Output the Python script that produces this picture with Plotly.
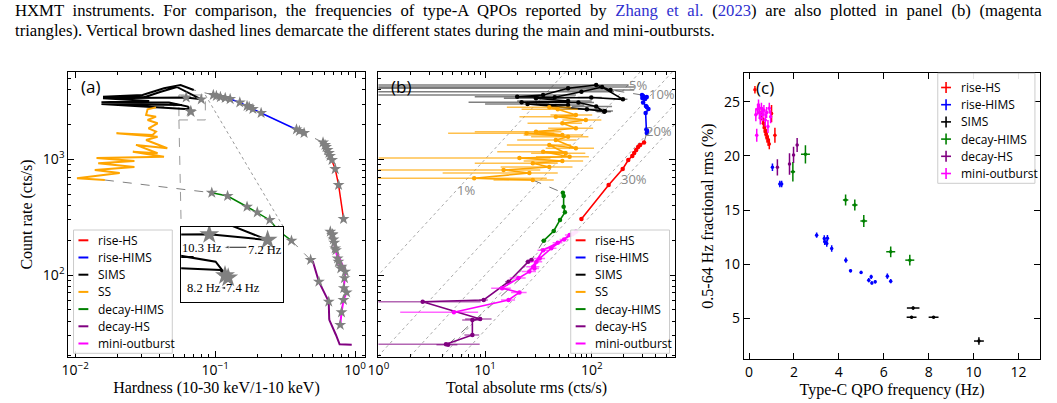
import math
import plotly.graph_objects as go

W, H = 1057, 403

# ------------------------------------------------------------------ data
state_names = ["rise-HS", "rise-HIMS", "SIMS", "SS", "decay-HIMS", "decay-HS", "mini-outburst"]
state_colors = ["#ff0000", "#0000ff", "#000000", "#ffa500", "#008000", "#800080", "#ff00ff"]
err_colors = ["rgba(255,0,0,0.6)", "rgba(0,0,255,0.6)", "rgba(0,0,0,0.5)", "rgba(255,165,0,0.7)",
              "rgba(0,128,0,0.6)", "rgba(128,0,128,0.6)", "rgba(255,0,255,0.6)"]

# rise-HS
rhs_count = [305, 600, 824, 986, 1069, 1133, 1203, 1277, 1330, 1397]
rhs_hard = [0.827, 0.762, 0.721, 0.684, 0.662, 0.650, 0.635, 0.620, 0.610, 0.590]
rhs_rms = [80, 144, 195, 220, 240, 250, 261, 272, 284, 309]
rhs_rms_err = [3, 4, 5, 5, 6, 6, 6, 6, 7, 7]
rhs_qpo_idx = [0, 1, 2, 3, 4, 5, 6, 7, 8, 9]

# rise-HIMS
rhims_count = [1687, 1757, 1811, 2512, 2722, 2833, 2889, 3097, 3318, 3388, 3453, 3524, 3597]
rhims_hard = [0.432, 0.400, 0.381, 0.213, 0.186, 0.175, 0.169, 0.150, 0.128, 0.118, 0.109, 0.102, 0.097]
rhims_rms = [328, 330, 325, 320, 340, 328, 322, 303, 316, 298, 328, 303, 296]
rhims_rms_err = [8, 8, 8, 9, 9, 9, 9, 9, 9, 9, 9, 9, 9]
rhims_qpo_idx = [0, 1, 2, 3, 4, 5, 6, 7, 8, 9, 10, 11, 12]

# SIMS
sims_count = [3972, 4385, 4111, 3597, 3475, 3434, 3837, 4217, 3297, 3420,
              3366, 3192, 3112, 3097, 2858, 2570, 2610, 2704, 3006, 2946]
sims_hard = [0.0703, 0.0566, 0.0431, 0.0303, 0.0158, 0.0312, 0.0409, 0.0533, 0.0796, 0.0621,
             0.0158, 0.0338, 0.0154, 0.0468, 0.0638, 0.0673, 0.0664, 0.0651, 0.0154, 0.0581]
sims_rms = [150, 110, 60, 35, 20, 45, 80, 125, 196, 99,
            30, 60, 22, 75, 110, 131, 133, 90, 25, 60]
sims_rms_err = [100, 112, 62, 36, 12, 25, 82, 128, 20, 25,
                15, 40, 15, 30, 45, 20, 25, 40, 15, 25]
sims_qpo_idx = [8, 9, 15, 16]

# SS
ss_count = [2812, 2704, 2416, 2336, 2188, 2047, 1853, 1734, 1622, 1679, 1567, 1468, 1245,
            1331, 1127, 1164, 1052, 1025, 966, 923, 857, 808, 762, 685, 662]
ss_hard = [0.0378, 0.0329, 0.0321, 0.0378, 0.0329, 0.0388, 0.0334, 0.0378, 0.0357, 0.0197,
           0.0388, 0.0321, 0.0455, 0.0272, 0.0388, 0.0258, 0.0431, 0.0142, 0.0265, 0.0146,
           0.0265, 0.0138, 0.0208, 0.0103, 0.0163]
ss_rms = [40, 48, 71, 46, 88, 53, 71, 30, 53, 24.5, 60, 46, 71, 40, 57, 35, 62, 21, 53, 28,
          40, 14.9, 26, 7.9, 28]
ss_rms_err = [24, 26, 30, 25, 35, 28, 32, 22, 30, 20, 33, 26, 34, 24, 30, 22, 32, 20, 30, 20,
              26, 18, 22, 30, 16]
ss_qpo_idx = []

# decay-HIMS
dhims_count = [514, 482, 389, 348, 299, 240, 198]
dhims_hard = [0.0946, 0.1227, 0.169, 0.200, 0.2455, 0.285, 0.351]
dhims_rms = [53.6, 54.5, 54.5, 56, 50.4, 44, 35.5]
dhims_rms_err = [2, 2, 2, 2, 2, 2, 2]
dhims_qpo_idx = [0, 1, 2, 3, 4, 5, 6]

# decay-HS
dhs_count = [135, 130, 87.5, 60.8, 58.8, 41.7, 40.8, 30.3, 25.2, 25.0]
dhs_hard = [0.481, 0.500, 0.551, 0.640, 0.648, 0.653, 0.655, 0.730, 0.775, 0.946]
dhs_rms = [27.2, 25.3, 16.6, 9.7, 2.6, 9.0, 7.6, 7.6, 4.3, 4.5]
dhs_rms_err = [1.5, 1.5, 1.2, 0.9, 6.5, 2.5, 1.5, 1.2, 4.6, 1.0]
dhs_qpo_idx = [0, 2, 4]

# mini-outburst
mini_count = [118, 114, 130, 139, 170, 203, 222, 237, 225, 190, 164, 107, 94, 77, 70.7, 60.8, 47.6, 37]
mini_hard = [0.80, 0.79, 0.76, 0.75, 0.72, 0.70, 0.685, 0.665, 0.69, 0.71, 0.73, 0.85, 0.84, 0.83,
             0.87, 0.826, 0.80, 0.783]
mini_rms = [28.3, 29, 30.3, 32.5, 41.7, 55, 62, 71, 66, 48, 35, 26, 20.5, 14.4, 21, 16.6, 5.1, None]
mini_rms_err = [4, 3, 4, 4, 5, 5, 6, 6, 5, 5, 4, 4, 3.5, 3, 3.5, 2.5, 3.5, 0]
mini_qpo_idx = list(range(len(mini_count)))

# panel (c): type-C QPO frequency vs fractional rms
c_rhs_freq = [0.26, 0.55, 0.60, 0.64, 0.68, 0.72, 0.76, 0.80, 0.85, 0.90, 1.00, 1.15]
c_rhs_rms = [26.1, 24.0, 23.4, 23.0, 22.6, 22.3, 22.0, 21.7, 21.4, 21.1, 23.9, 21.9]
c_rhs_ferr = [0.04, 0.04, 0.04, 0.04, 0.04, 0.04, 0.04, 0.04, 0.04, 0.04, 0.05, 0.05]
c_rhs_rerr = [0.35, 0.5, 0.5, 0.5, 0.5, 0.5, 0.5, 0.5, 0.5, 0.5, 0.8, 0.7]

c_rhims_freq = [1.04, 1.37, 1.45, 3.01, 3.35, 3.37, 3.49, 3.46, 3.68, 4.31, 4.52, 4.99, 5.33, 5.44,
                5.47, 5.62, 6.16, 6.31]
c_rhims_rms = [18.94, 17.40, 17.40, 12.68, 12.37, 12.06, 12.40, 11.90, 11.45, 10.37, 9.38, 9.23,
               8.52, 8.83, 8.27, 8.37, 8.89, 8.43]
c_rhims_ferr = [0.04, 0.05, 0.05, 0.03, 0.03, 0.03, 0.03, 0.03, 0.03, 0.03, 0.03, 0.03, 0.03, 0.03,
                0.03, 0.03, 0.03, 0.03]
c_rhims_rerr = [0.35, 0.3, 0.3, 0.25, 0.3, 0.3, 0.3, 0.3, 0.3, 0.25, 0.15, 0.15, 0.2, 0.2, 0.15,
                0.15, 0.25, 0.2]

c_sims_freq = [7.24, 7.31, 8.22, 10.24]
c_sims_rms = [5.10, 5.95, 5.10, 2.90]
c_sims_ferr = [0.22, 0.28, 0.22, 0.22]
c_sims_rerr = [0.12, 0.15, 0.10, 0.35]

c_dhims_freq = [7.16, 6.31, 5.11, 4.71, 4.30, 2.51, 1.95]
c_dhims_rms = [10.37, 11.14, 13.98, 15.46, 15.92, 20.14, 18.54]
c_dhims_ferr = [0.2, 0.2, 0.15, 0.12, 0.12, 0.2, 0.1]
c_dhims_rerr = [0.5, 0.5, 0.55, 0.5, 0.5, 0.85, 0.9]

c_dhs_freq = [1.26, 1.80, 1.98, 2.14]
c_dhs_rms = [18.94, 19.25, 20.08, 21.00]
c_dhs_ferr = [0.04, 0.05, 0.05, 0.05]
c_dhs_rerr = [0.75, 1.0, 0.75, 0.65]

c_mini_freq = [0.30, 0.34, 0.38, 0.42, 0.46, 0.50, 0.55, 0.60, 0.66, 0.72, 0.78, 0.84, 0.90, 0.96]
c_mini_rms = [23.8, 21.9, 24.3, 24.7, 24.0, 23.5, 24.4, 23.8, 24.2, 23.3, 24.0, 22.7, 24.4, 23.6]
c_mini_ferr = [0.04, 0.04, 0.04, 0.04, 0.04, 0.04, 0.04, 0.04, 0.04, 0.04, 0.04, 0.04, 0.04, 0.04]
c_mini_rerr = [0.6, 0.6, 0.5, 0.5, 0.6, 0.6, 0.5, 0.6, 0.5, 0.6, 0.5, 0.6, 0.5, 0.6]

# fractional-rms guide levels in panel (b)
frac_levels = [0.01, 0.05, 0.10, 0.20, 0.30]
frac_labels = ["1%", "5%", "10%", "20%", "30%"]
frac_label_count = [540, 4365, 3690, 1746, 679]

# QPO frequency annotations of the inset
inset_notes = ["10.3 Hz", "7.2 Hz", "8.2 Hz", "7.4 Hz"]

# zoom window of the inset (hardness, count rate)
inset_hard_lim = [0.0551, 0.0851]
inset_count_lim = [2188, 3597]

# ------------------------------------------------------------------ tables
hid_table = [
    (rhs_count, rhs_hard, rhs_rms, rhs_rms_err, rhs_qpo_idx),
    (rhims_count, rhims_hard, rhims_rms, rhims_rms_err, rhims_qpo_idx),
    (sims_count, sims_hard, sims_rms, sims_rms_err, sims_qpo_idx),
    (ss_count, ss_hard, ss_rms, ss_rms_err, ss_qpo_idx),
    (dhims_count, dhims_hard, dhims_rms, dhims_rms_err, dhims_qpo_idx),
    (dhs_count, dhs_hard, dhs_rms, dhs_rms_err, dhs_qpo_idx),
    (mini_count, mini_hard, mini_rms, mini_rms_err, mini_qpo_idx),
]
qpo_table = [
    (0, c_rhs_freq, c_rhs_rms, c_rhs_ferr, c_rhs_rerr),
    (1, c_rhims_freq, c_rhims_rms, c_rhims_ferr, c_rhims_rerr),
    (2, c_sims_freq, c_sims_rms, c_sims_ferr, c_sims_rerr),
    (4, c_dhims_freq, c_dhims_rms, c_dhims_ferr, c_dhims_rerr),
    (5, c_dhs_freq, c_dhs_rms, c_dhs_ferr, c_dhs_rerr),
    (6, c_mini_freq, c_mini_rms, c_mini_ferr, c_mini_rerr),
]
line_widths_a = [1.5, 1.5, 2, 2, 1.5, 2, 2]

# ------------------------------------------------------------------ layout geometry
def dom_x(p0, p1):
    return [p0 / W, p1 / W]


def dom_y(p_top, p_bot):
    return [1 - p_bot / H, 1 - p_top / H]


AX_A = dom_x(58, 358)
AX_B = dom_x(372, 672)
AX_C = dom_x(742, 1042)
AY_AB = dom_y(72, 357)
AY_C = dom_y(73, 359)
INS_X = dom_x(172.3, 275.7)
INS_Y = dom_y(226.7, 302.3)

XR_A = [-2.0494, 0.0678]
YR_AB = [1.2913, 3.7545]
XR_B = [0.0, 2.778]
XR_C = [-0.233, 12.97]
YR_C = [1.242, 27.65]
XR_I = [math.log10(inset_hard_lim[0]), math.log10(inset_hard_lim[1])]
YR_I = [math.log10(inset_count_lim[0]), math.log10(inset_count_lim[1])]

GRAY = "#808080"
SANS = "Open Sans"
SERIF = "Liberation Serif"

fig = go.Figure()

# ---------------- panel (a) -------------------------------------------------
for i in range(5):
    c0, h0 = hid_table[i][0], hid_table[i][1]
    c1, h1 = hid_table[i + 1][0], hid_table[i + 1][1]
    fig.add_trace(go.Scatter(x=[h0[-1], h1[0]], y=[c0[-1], c1[0]], mode="lines",
                             line=dict(color=GRAY, width=1, dash="dash"),
                             showlegend=False, hoverinfo="skip", xaxis="x", yaxis="y"))

hx0, hx1 = inset_hard_lim
cy0, cy1 = inset_count_lim
fig.add_trace(go.Scatter(x=[hx0, hx1, hx1, hx0, hx0], y=[cy0, cy0, cy1, cy1, cy0], mode="lines",
                         line=dict(color="#999999", width=1, dash="dash"),
                         showlegend=False, hoverinfo="skip", xaxis="x", yaxis="y"))


def paper_to_a(xp, yp):
    fx = (xp - AX_A[0]) / (AX_A[1] - AX_A[0])
    fy = (yp - AY_AB[0]) / (AY_AB[1] - AY_AB[0])
    return (10 ** (XR_A[0] + fx * (XR_A[1] - XR_A[0])),
            10 ** (YR_AB[0] + fy * (YR_AB[1] - YR_AB[0])))


def inset_frac(fx, fy):
    return (10 ** (XR_I[0] + fx * (XR_I[1] - XR_I[0])), 10 ** (YR_I[0] + fy * (YR_I[1] - YR_I[0])))


tl = paper_to_a(INS_X[0], INS_Y[1])
tr = paper_to_a(INS_X[1], INS_Y[1])
fig.add_trace(go.Scatter(x=[hx0, tl[0]], y=[cy0, tl[1]], mode="lines",
                         line=dict(color="#999999", width=1, dash="dash"),
                         showlegend=False, hoverinfo="skip", xaxis="x", yaxis="y"))
fig.add_trace(go.Scatter(x=[hx1, tr[0]], y=[cy1, tr[1]], mode="lines",
                         line=dict(color="#999999", width=1, dash="dot"),
                         showlegend=False, hoverinfo="skip", xaxis="x", yaxis="y"))

for k, (cnt, hrd, rms, rerr, qidx) in enumerate(hid_table):
    fig.add_trace(go.Scatter(x=hrd, y=cnt, mode="lines", name=state_names[k],
                             line=dict(color=state_colors[k], width=line_widths_a[k]),
                             showlegend=False, xaxis="x", yaxis="y"))
for k, (cnt, hrd, rms, rerr, qidx) in enumerate(hid_table):
    if qidx:
        fig.add_trace(go.Scatter(x=[hrd[i] for i in qidx], y=[cnt[i] for i in qidx], mode="markers",
                                 marker=dict(symbol="star", size=9, color=GRAY, line=dict(width=0)),
                                 showlegend=False, hoverinfo="skip", xaxis="x", yaxis="y"))

# inset
fig.add_trace(go.Scatter(x=sims_hard, y=sims_count, mode="lines",
                         line=dict(color="#000000", width=2),
                         showlegend=False, xaxis="x4", yaxis="y4"))
fig.add_trace(go.Scatter(x=[sims_hard[i] for i in sims_qpo_idx], y=[sims_count[i] for i in sims_qpo_idx],
                         mode="markers", marker=dict(symbol="star", size=15, color=GRAY, line=dict(width=0)),
                         showlegend=False, xaxis="x4", yaxis="y4"))
for (t0, t1, yy) in [(0.638, 0.413, 0.728), (0.438, 0.378, 0.19)]:
    p0 = inset_frac(t0, yy)
    p1 = inset_frac(t1, yy)
    fig.add_trace(go.Scatter(x=[p0[0], p1[0]], y=[p0[1], p1[1]], mode="lines+markers",
                             line=dict(color="black", width=0.9),
                             marker=dict(symbol="arrow", size=[0, 6], angleref="previous", color="black"),
                             showlegend=False, hoverinfo="skip", xaxis="x4", yaxis="y4"))

# ---------------- panel (b) -------------------------------------------------
for f in frac_levels:
    fig.add_trace(go.Scatter(x=[f * 1.0, f * 1e5], y=[1.0, 1e5], mode="lines",
                             line=dict(color="#aaaaaa", width=1, dash="dot"),
                             showlegend=False, hoverinfo="skip", xaxis="x2", yaxis="y2"))

for i in range(6):
    c0, r0 = hid_table[i][0], hid_table[i][2]
    c1, r1 = hid_table[i + 1][0], hid_table[i + 1][2]
    fig.add_trace(go.Scatter(x=[r0[-1], r1[0]], y=[c0[-1], c1[0]], mode="lines",
                             line=dict(color="#777777", width=1, dash="dash"),
                             showlegend=False, hoverinfo="skip", xaxis="x2", yaxis="y2"))

for k, (cnt, hrd, rms, rerr, qidx) in enumerate(hid_table):
    fig.add_trace(go.Scatter(x=rms, y=cnt, mode="lines+markers", name=state_names[k],
                             line=dict(color=state_colors[k], width=1.6),
                             marker=dict(size=4.5, color=state_colors[k]),
                             error_x=dict(type="data", array=rerr, color=err_colors[k],
                                          thickness=1.5, width=0),
                             showlegend=False, xaxis="x2", yaxis="y2"))

# ---------------- panel (c) -------------------------------------------------
for k, fr, rm, fe, re_ in qpo_table:
    fig.add_trace(go.Scatter(x=fr, y=rm, mode="markers", name=state_names[k],
                             marker=dict(size=3.5, color=state_colors[k]),
                             error_x=dict(type="data", array=fe, color=state_colors[k], thickness=1.5, width=0),
                             error_y=dict(type="data", array=re_, color=state_colors[k], thickness=1.5, width=0),
                             showlegend=False, xaxis="x3", yaxis="y3"))

# ------------------------------------------------------------------ axes
tickfont = dict(family=SANS, size=14, color="black")
titlefont = dict(family=SERIF, size=16, color="black")


def sup(e):
    return "10<sup>" + ("\u2212" if e < 0 else "") + str(abs(e)) + "</sup>"


def minor_log(e0, e1):
    return [m * 10.0 ** e for e in range(e0, e1) for m in range(2, 10)]


common = dict(showline=True, linecolor="black", linewidth=1, mirror="ticks", ticks="inside",
              ticklen=6, tickwidth=1, tickcolor="black", showgrid=False, zeroline=False,
              tickfont=tickfont)
log_minor = dict(ticks="inside", ticklen=3, tickwidth=1, tickcolor="black", showgrid=False,
                 tickmode="array")

fig.update_layout(
    xaxis=dict(domain=AX_A, type="log", range=XR_A, anchor="y",
               tickmode="array", tickvals=[0.01, 0.1, 1], ticktext=[sup(-2), sup(-1), sup(0)],
               minor=dict(log_minor, tickvals=minor_log(-3, 1)),
               title=dict(text="Hardness (10-30 keV/1-10 keV)", font=titlefont, standoff=4), **common),
    yaxis=dict(domain=AY_AB, type="log", range=YR_AB, anchor="x",
               tickmode="array", tickvals=[100, 1000], ticktext=[sup(2), sup(3)],
               minor=dict(log_minor, tickvals=minor_log(1, 4)),
               title=dict(text="Count rate (cts/s)", font=titlefont, standoff=6), **common),
    xaxis2=dict(domain=AX_B, type="log", range=XR_B, anchor="y2",
                tickmode="array", tickvals=[1, 10, 100], ticktext=[sup(0), sup(1), sup(2)],
                minor=dict(log_minor, tickvals=minor_log(0, 3)),
                title=dict(text="Total absolute rms (cts/s)", font=titlefont, standoff=4), **common),
    yaxis2=dict(domain=AY_AB, type="log", range=YR_AB, anchor="x2",
                tickmode="array", tickvals=[100, 1000], showticklabels=False,
                minor=dict(log_minor, tickvals=minor_log(1, 4)), **common),
    xaxis3=dict(domain=AX_C, range=XR_C, anchor="y3", tickmode="array",
                tickvals=[0, 2, 4, 6, 8, 10, 12],
                title=dict(text="Type-C QPO frequency (Hz)", font=titlefont, standoff=4), **common),
    yaxis3=dict(domain=AY_C, range=YR_C, anchor="x3", tickmode="array",
                tickvals=[5, 10, 15, 20, 25],
                title=dict(text="0.5-64 Hz fractional rms (%)", font=titlefont, standoff=6), **common),
    xaxis4=dict(domain=INS_X, type="log", anchor="y4", range=XR_I,
                showline=True, mirror=True, linecolor="black", linewidth=1.2, ticks="",
                showticklabels=False, showgrid=False, zeroline=False),
    yaxis4=dict(domain=INS_Y, type="log", anchor="x4", range=YR_I,
                showline=True, mirror=True, linecolor="black", linewidth=1.2, ticks="",
                showticklabels=False, showgrid=False, zeroline=False),
)

# ------------------------------------------------------------------ legends (drawn boxes)
shapes = []
ann = []


def px(x):
    return x / W


def py(y):
    return 1 - y / H


def legend_box(box, entries, row0, dy, sym_x, text_x, cross):
    x0, y0, x1, y1 = box
    shapes.append(dict(type="rect", xref="paper", yref="paper", x0=px(x0), x1=px(x1), y0=py(y1), y1=py(y0),
                       line=dict(color="#cccccc", width=1), fillcolor="rgba(255,255,255,0.9)", layer="above"))
    for j, k in enumerate(entries):
        yc = row0 + j * dy
        col = state_colors[k]
        if cross:
            shapes.append(dict(type="line", xref="paper", yref="paper", x0=px(sym_x - 5), x1=px(sym_x + 5),
                               y0=py(yc), y1=py(yc), line=dict(color=col, width=1.6), layer="above"))
            shapes.append(dict(type="line", xref="paper", yref="paper", x0=px(sym_x), x1=px(sym_x),
                               y0=py(yc - 5.5), y1=py(yc + 5.5), line=dict(color=col, width=1.6), layer="above"))
        else:
            shapes.append(dict(type="line", xref="paper", yref="paper", x0=px(sym_x[0]), x1=px(sym_x[1]),
                               y0=py(yc), y1=py(yc), line=dict(color=col, width=2), layer="above"))
        ann.append(dict(text=state_names[k], xref="paper", yref="paper", x=px(text_x), y=py(yc),
                        xanchor="left", yanchor="middle", showarrow=False,
                        font=dict(family=SANS, size=12, color="black")))


legend_box((63.3, 230, 163.3, 353.3), [0, 1, 2, 3, 4, 5, 6], 240.3, 17.2, (68.3, 78.3), 86, False)
legend_box((566.7, 230, 666.7, 353.3), [0, 1, 2, 3, 4, 5, 6], 240.3, 17.2, (571.7, 581.7), 589.3, False)
legend_box((938.3, 73.3, 1036.7, 183.3), [0, 1, 2, 4, 5, 6], 87.5, 17.2, 946.7, 959.3, True)

# ------------------------------------------------------------------ annotations
for lab, ref in zip(["(a)", "(b)", "(c)"], [("x", "y"), ("x2", "y2"), ("x3", "y3")]):
    ann.append(dict(text=lab, xref=ref[0] + " domain", yref=ref[1] + " domain", x=0.035, y=0.995,
                    xanchor="left", yanchor="top", showarrow=False,
                    font=dict(family=SANS, size=17, color="black")))

for f, lab, c in zip(frac_levels, frac_labels, frac_label_count):
    ann.append(dict(text=lab, xref="x2", yref="y2", x=math.log10(f * c) + 0.09, y=math.log10(c),
                    xanchor="center", yanchor="middle",
                    showarrow=False, font=dict(family=SANS, size=13, color="#888888")))

ins_font = dict(family=SERIF, size=12.5, color="black")
ins_pos = [(0.203, 0.72), (0.816, 0.69), (0.224, 0.19), (0.606, 0.19)]
for txt, (xx, yy) in zip(inset_notes, ins_pos):
    ann.append(dict(text=txt, xref="x4 domain", yref="y4 domain", x=xx, y=yy, showarrow=False,
                    xanchor="center", yanchor="middle", font=ins_font))

blue = "#3030d0"
cap1 = ("<span style='word-spacing:4.5px'>HXMT instruments. For comparison, the frequencies of type-A QPOs reported by "
        "<span style='color:" + blue + "'>Zhang et al.</span> (<span style='color:" + blue +
        "'>2023</span>) are also plotted in panel (b) (magenta</span>")
cap2 = ("triangles). Vertical brown dashed lines demarcate the different states during the main "
        "and mini-outbursts.")
ann.append(dict(text=cap1, xref="paper", yref="paper", x=2 / W, y=1 - 10.5 / H, xanchor="left",
                yanchor="middle", showarrow=False, font=dict(family=SERIF, size=16.7, color="black")))
ann.append(dict(text=cap2, xref="paper", yref="paper", x=2 / W, y=1 - 31 / H, xanchor="left",
                yanchor="middle", showarrow=False, font=dict(family=SERIF, size=16.7, color="black")))

fig.update_layout(annotations=ann, shapes=shapes, width=W, height=H, margin=dict(l=0, r=0, t=0, b=0),
                  paper_bgcolor="white", plot_bgcolor="white", showlegend=False)

fig.write_html("out.html")
